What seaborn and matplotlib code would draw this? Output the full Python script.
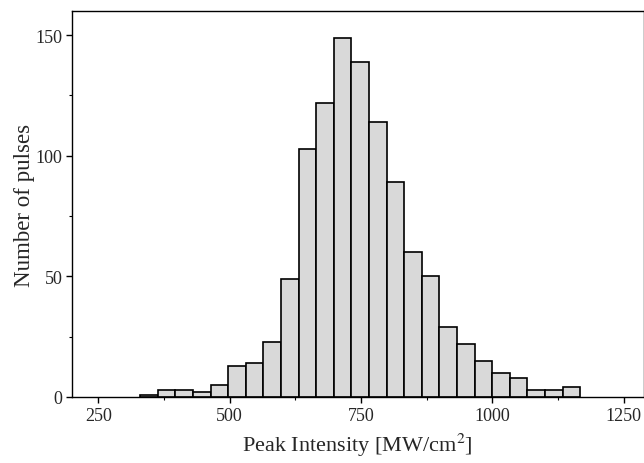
import numpy as np
import pandas as pd
import matplotlib
matplotlib.use('Agg')
import matplotlib.pyplot as plt
from matplotlib.ticker import MultipleLocator
import seaborn as sns

# ---- data ----
bin_start = 330.0
bin_width = 33.5
bin_centers = [346.75, 380.25, 413.75, 447.25, 480.75, 514.25, 547.75, 581.25,
               614.75, 648.25, 681.75, 715.25, 748.75, 782.25, 815.75, 849.25,
               882.75, 916.25, 949.75, 983.25, 1016.75, 1050.25, 1083.75,
               1117.25, 1150.75]
counts = [1, 3, 3, 2, 5, 13, 14, 23, 49, 103, 122, 149, 139, 114, 89, 60,
          50, 29, 22, 15, 10, 8, 3, 3, 4]

df = pd.DataFrame({'intensity': bin_centers, 'n': counts})

sns.set_theme(style='ticks')
plt.rcParams['font.family'] = ['Liberation Serif', 'DejaVu Serif']
plt.rcParams['mathtext.fontset'] = 'stix'

fig = plt.figure(figsize=(6.44, 4.64), dpi=100)
ax = fig.add_axes([72 / 644, 1 - 398 / 464, 571.5 / 644, 386 / 464])

sns.histplot(data=df, x='intensity', weights='n', binwidth=bin_width,
             binrange=(bin_start, bin_start + bin_width * len(counts)),
             color='#d9d9d9', edgecolor='black', linewidth=1.2, alpha=1.0,
             ax=ax)

ax.set_xlim(200, 1288)
ax.set_ylim(0, 160)
ax.xaxis.set_major_locator(MultipleLocator(250))
ax.xaxis.set_minor_locator(MultipleLocator(125))
ax.yaxis.set_major_locator(MultipleLocator(50))
ax.yaxis.set_minor_locator(MultipleLocator(25))
ax.tick_params(which='major', direction='out', length=4, width=1, labelsize=13,
               color='black', pad=3)
ax.tick_params(which='minor', direction='out', length=2.5, width=0.8, color='black')
for s in ax.spines.values():
    s.set_color('black')
    s.set_linewidth(1.0)

ax.set_xlabel(r'Peak Intensity [MW/cm$^2$]', fontsize=16, labelpad=5)
ax.set_ylabel('Number of pulses', fontsize=16.5, labelpad=0)

fig.savefig('out.png', dpi=100)
